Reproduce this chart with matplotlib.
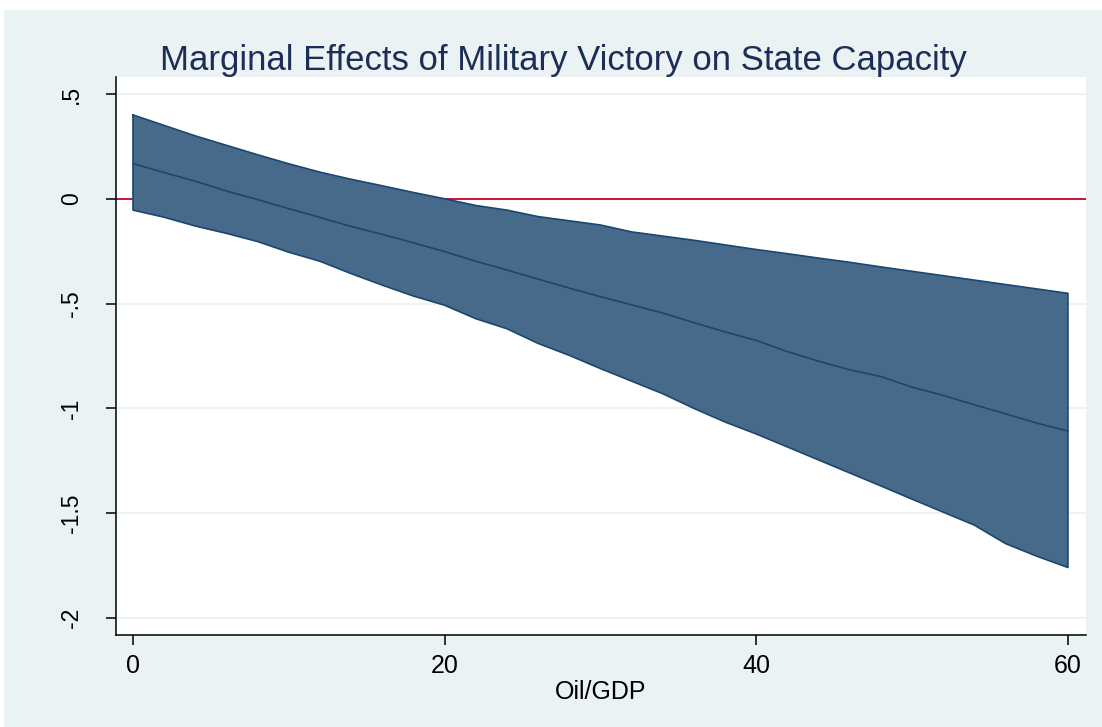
import matplotlib
matplotlib.use("Agg")
import matplotlib.pyplot as plt
from matplotlib.patches import Rectangle

# ---- data ----
oil_gdp = [0, 2, 4, 6, 8, 10, 12, 14, 16, 18, 20, 22, 24, 26, 28, 30,
           32, 34, 36, 38, 40, 42, 44, 46, 48, 50, 52, 54, 56, 58, 60]
effect = [0.168, 0.125, 0.084, 0.037, -0.004, -0.047, -0.089, -0.132, -0.170,
          -0.210, -0.252, -0.298, -0.340, -0.383, -0.426, -0.467, -0.506,
          -0.545, -0.591, -0.635, -0.676, -0.729, -0.775, -0.816, -0.848,
          -0.899, -0.938, -0.983, -1.026, -1.070, -1.108]
upper = [0.40, 0.35, 0.30, 0.255, 0.21, 0.167, 0.127, 0.093, 0.062, 0.030,
         0.0, -0.032, -0.054, -0.085, -0.105, -0.125, -0.158, -0.178, -0.198,
         -0.220, -0.242, -0.262, -0.283, -0.303, -0.325, -0.346, -0.367,
         -0.388, -0.409, -0.430, -0.451]
lower = [-0.054, -0.088, -0.130, -0.165, -0.204, -0.255, -0.298, -0.357,
         -0.412, -0.464, -0.508, -0.572, -0.620, -0.690, -0.747, -0.810,
         -0.870, -0.930, -1.000, -1.065, -1.122, -1.184, -1.246, -1.308,
         -1.370, -1.433, -1.495, -1.557, -1.645, -1.705, -1.759]

x_ticks = [0, 20, 40, 60]
x_tick_labels = ["0", "20", "40", "60"]
y_ticks = [0.5, 0, -0.5, -1, -1.5, -2]
y_tick_labels = [".5", "0", "-.5", "-1", "-1.5", "-2"]
title = "Marginal Effects of Military Victory on State Capacity"
x_label = "Oil/GDP"

# ---- styling ----
plt.rcParams['font.family'] = ['Liberation Sans', 'DejaVu Sans']
BG = '#EAF2F3'
FILL = '#476A8A'
EDGE = '#1A476F'
TITLE_C = '#1C2E57'
RED = '#D0103A'

W, H = 1102, 727
fig = plt.figure(figsize=(W / 100, H / 100), dpi=100)
fig.patch.set_facecolor(BG)
# thin white border at top and left of the graph region
fig.patches.append(Rectangle((0, 0), 4 / W, 1, transform=fig.transFigure,
                             facecolor='white', edgecolor='none', zorder=-5))
fig.patches.append(Rectangle((0, 1 - 10 / H), 1, 10 / H, transform=fig.transFigure,
                             facecolor='white', edgecolor='none', zorder=-5))

ax = fig.add_axes([116 / W, 1 - 635 / H, (1086 - 116) / W, (635 - 77) / H])
ax.set_facecolor('white')

ax.set_xlim(-1.09, 61.16)
ax.set_ylim(-2.081, 0.581)

for yt in y_ticks:
    ax.axhline(yt, color=BG, lw=1.3, zorder=1)
ax.axhline(0, color=RED, lw=1.4, zorder=2)

ax.fill_between(oil_gdp, lower, upper, facecolor=FILL, edgecolor='none', zorder=3)
band_x = oil_gdp + oil_gdp[::-1] + [oil_gdp[0]]
band_y = upper + lower[::-1] + [upper[0]]
ax.plot(band_x, band_y, color=EDGE, lw=1.2, zorder=4)
ax.plot(oil_gdp, effect, color=EDGE, lw=1.2, zorder=4)

for s in ['top', 'right']:
    ax.spines[s].set_visible(False)
for s in ['left', 'bottom']:
    ax.spines[s].set_color('black')
    ax.spines[s].set_linewidth(1.1)

ax.set_xticks(x_ticks)
ax.set_xticklabels(x_tick_labels, fontsize=18)
ax.set_yticks(y_ticks)
ax.set_yticklabels(y_tick_labels, fontsize=16.5, rotation=90, va='center')
ax.tick_params(axis='both', direction='out', length=7, width=1.1, color='black')
ax.tick_params(axis='x', pad=7)
ax.tick_params(axis='y', pad=17)

ax.set_xlabel(x_label, fontsize=18, labelpad=1)
fig.text(563 / W, 1 - 70 / H, title, fontsize=25, color=TITLE_C,
         ha='center', va='baseline')

fig.savefig('out.png', dpi=100, facecolor=fig.get_facecolor())
